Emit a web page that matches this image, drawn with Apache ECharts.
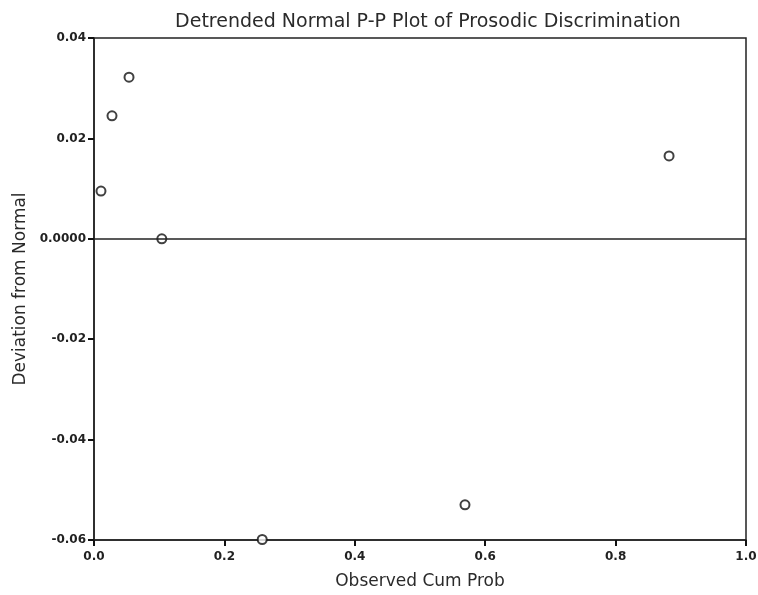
<!DOCTYPE html>
<html><head><meta charset="utf-8">
<script src="https://cdn.jsdelivr.net/npm/echarts@6/dist/echarts.min.js"></script>
<style>html,body{margin:0;padding:0;background:#fff}#c{width:758px;height:595px}</style>
</head><body><div id="c"></div>
<script>
const observedCumProb = [0.0107, 0.0276, 0.0537, 0.104, 0.258, 0.569, 0.882];
const deviation = [0.0095, 0.0245, 0.0322, 0.0000, -0.0599, -0.0530, 0.0165];
const yTickValues = [0.04, 0.02, 0, -0.02, -0.04, -0.06];
const yTickLabels = ['0.04', '0.02', '0.0000', '-0.02', '-0.04', '-0.06'];
const xTickLabels = ['0.0', '0.2', '0.4', '0.6', '0.8', '1.0'];

const font = '"DejaVu Sans", Arial, sans-serif';
const chart = echarts.init(document.getElementById('c'), null, {renderer: 'canvas'});
chart.setOption({
  animation: false,
  backgroundColor: '#fff',
  title: {
    text: 'Detrended Normal P-P Plot of Prosodic Discrimination',
    left: 423, top: 8, textAlign: 'center',
    textStyle: {fontFamily: font, fontSize: 19, fontWeight: 'normal', color: '#2a2a2a'}
  },
  grid: {left: 94, right: 12, top: 38, bottom: 55, outerBoundsMode: 'none', containLabel: false,
    show: true, borderColor: '#222', borderWidth: 1.5, backgroundColor: '#fff'},
  xAxis: {
    type: 'value', min: 0, max: 1, interval: 0.2,
    name: 'Observed Cum Prob', nameLocation: 'middle', nameGap: 33,
    nameTextStyle: {fontFamily: font, fontSize: 17, color: '#2a2a2a'},
    axisLine: {show: true, onZero: false, lineStyle: {color: '#222', width: 1.5}},
    axisTick: {show: true, inside: false, length: 6, lineStyle: {color: '#111', width: 2}},
    axisLabel: {fontFamily: font, fontSize: 12, fontWeight: 'bold', color: '#222', margin: 11,
      formatter: v => xTickLabels[Math.round(v / 0.2)]},
    splitLine: {show: false}
  },
  yAxis: {
    type: 'value', min: -0.06, max: 0.04, interval: 0.02,
    name: 'Deviation from Normal', nameLocation: 'middle', nameGap: 64, nameRotate: 90,
    nameTextStyle: {fontFamily: font, fontSize: 17, color: '#2a2a2a'},
    axisLine: {show: true, onZero: false, lineStyle: {color: '#222', width: 1.5}},
    axisTick: {show: true, inside: false, length: 6, lineStyle: {color: '#111', width: 2}},
    axisLabel: {fontFamily: font, fontSize: 12, fontWeight: 'bold', color: '#222', margin: 8,
      formatter: v => {
        const i = yTickValues.findIndex(t => Math.abs(t - v) < 1e-9);
        return i >= 0 ? yTickLabels[i] : '';
      }},
    splitLine: {show: false}
  },
  series: [{
    type: 'scatter',
    data: observedCumProb.map((x, i) => [x, deviation[i]]),
    symbol: 'circle', symbolSize: 9,
    itemStyle: {color: '#fff', borderColor: '#111', borderWidth: 2},
    markLine: {
      silent: true, symbol: 'none', label: {show: false},
      lineStyle: {color: '#222', width: 1.5, type: 'solid'},
      data: [{yAxis: 0}]
    },
    z: 3
  }]
});
</script></body></html>
